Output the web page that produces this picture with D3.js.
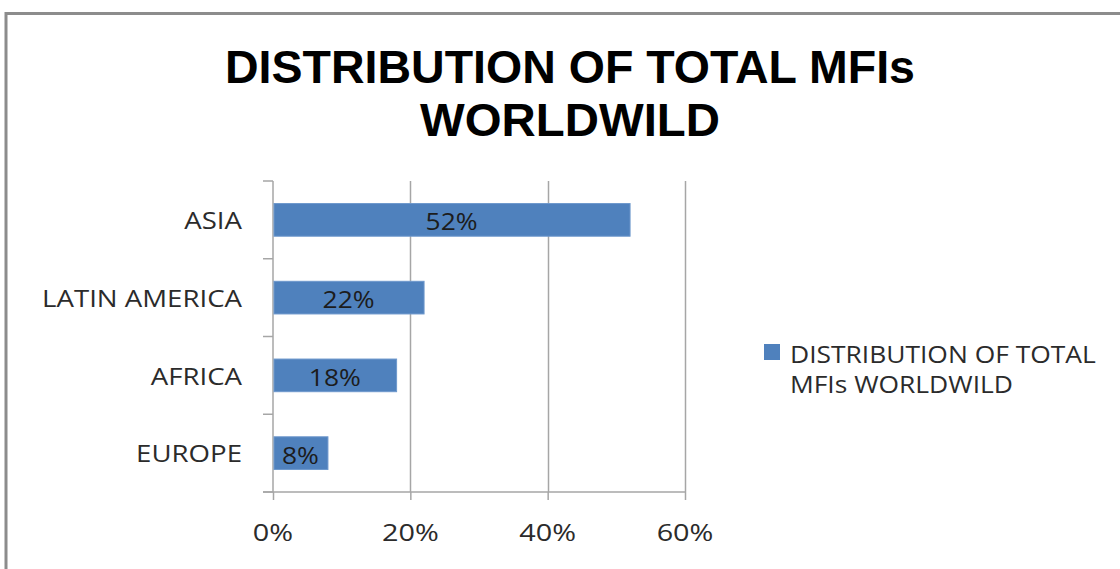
<!DOCTYPE html>
<html>
<head>
<meta charset="utf-8">
<script src="https://cdn.jsdelivr.net/npm/d3@7"></script>
<style>
  html, body { margin: 0; padding: 0; background: #fff; }
  svg { display: block; }
</style>
</head>
<body>
<svg id="chart" width="1120" height="569"></svg>
<script>
// Share of total microfinance institutions by region
const categories = ["ASIA", "LATIN AMERICA", "AFRICA", "EUROPE"];
const shares = [0.52, 0.22, 0.18, 0.08];
const tickValues = [0, 0.2, 0.4, 0.6];
const tickLabels = ["0%", "20%", "40%", "60%"];
const titleLines = ["DISTRIBUTION OF TOTAL MFIs", "WORLDWILD"];
const legendLines = ["DISTRIBUTION OF TOTAL", "MFIs WORLDWILD"];

const W = 1120, H = 569;
const barColor = "#4f81bd";
const gridColor = "#a6a6a6";
const textColor = "#2b2b2b";
const FONT = "'Open Sans', 'DejaVu Sans', sans-serif";
const TITLE_FONT = "'Liberation Sans', Arial, sans-serif";
const STRETCH = 1.15; // horizontal widening of the regular labels
const LABEL_SIZE = 24;

const svg = d3.select("#chart");

// Outer chart frame (only its left and top edges sit inside the view)
svg.append("rect")
  .attr("x", 6).attr("y", 13.5)
  .attr("width", W + 20).attr("height", H + 20)
  .attr("fill", "#fff")
  .attr("stroke", "#8c8c8c").attr("stroke-width", 3);

// Plot area
const plot = { left: 273, right: 685, top: 181, bottom: 492 };

const x = d3.scaleLinear().domain([0, 0.6]).range([plot.left, plot.right]);
const y = d3.scaleBand().domain(categories).range([plot.top, plot.bottom])
  .paddingInner(0.58).paddingOuter(0.29);
const yBand = d3.scaleBand().domain(categories).range([plot.top, plot.bottom]);

// helper: text drawn with a horizontal stretch around its anchor point
function stretched(g, px, py, txt, opts) {
  return g.append("text")
    .attr("transform", `translate(${px},${py}) scale(${opts.sx || STRETCH},1)`)
    .attr("font-family", FONT)
    .attr("font-size", opts.size || LABEL_SIZE)
    .attr("font-weight", opts.weight || 400)
    .attr("fill", opts.fill || textColor)
    .attr("text-anchor", opts.anchor || "start")
    .attr("dominant-baseline", "central")
    .text(txt);
}

// Title: two centred, condensed bold lines
const title = svg.append("g");
titleLines.forEach((line, i) => {
  title.append("text")
    .attr("x", 570).attr("y", 83 + i * 53)
    .attr("text-anchor", "middle")
    .attr("font-family", TITLE_FONT)
    .attr("font-weight", 700)
    .attr("font-size", 47)
    .attr("fill", "#000")
    .attr("textLength", i === 0 ? 690 : 300)
    .attr("lengthAdjust", "spacingAndGlyphs")
    .text(line);
});

// Vertical gridlines
svg.append("g")
  .selectAll("line")
  .data(tickValues.slice(1))
  .join("line")
  .attr("x1", d => Math.round(x(d)) + 0.5).attr("x2", d => Math.round(x(d)) + 0.5)
  .attr("y1", plot.top).attr("y2", plot.bottom)
  .attr("stroke", gridColor).attr("stroke-width", 1.5);

// Bottom axis
const xAxis = d3.axisBottom(x).tickValues(tickValues).tickSize(8).tickFormat("");
const xAxisG = svg.append("g")
  .attr("transform", `translate(0,${plot.bottom})`)
  .call(xAxis);
xAxisG.select(".domain").remove();
xAxisG.selectAll(".tick line").attr("stroke", gridColor).attr("stroke-width", 1.5);
xAxisG.append("line")
  .attr("x1", plot.left - 10).attr("x2", plot.right)
  .attr("y1", 0).attr("y2", 0)
  .attr("stroke", gridColor).attr("stroke-width", 1.5);
tickValues.forEach((v, i) => {
  stretched(xAxisG, x(v), 40, tickLabels[i], { anchor: "middle", sx: 1.2 });
});

// Left axis: tick marks at the band boundaries
const boundaries = categories.map(c => yBand(c)).concat([plot.bottom]);
const yAxisG = svg.append("g");
yAxisG.append("line")
  .attr("x1", plot.left).attr("x2", plot.left)
  .attr("y1", plot.top).attr("y2", plot.bottom)
  .attr("stroke", gridColor).attr("stroke-width", 1.5);
yAxisG.selectAll("line.tk")
  .data(boundaries)
  .join("line").attr("class", "tk")
  .attr("x1", plot.left - 10).attr("x2", plot.left)
  .attr("y1", d => d).attr("y2", d => d)
  .attr("stroke", gridColor).attr("stroke-width", 1.5);
categories.forEach(c => {
  stretched(yAxisG, plot.left - 31, yBand(c) + yBand.bandwidth() / 2, c, { anchor: "end" });
});

// Bars
const bars = svg.append("g");
bars.selectAll("rect")
  .data(categories.map((c, i) => ({ c, v: shares[i] })))
  .join("rect")
  .attr("x", x(0) + 1)
  .attr("y", d => y(d.c))
  .attr("width", d => x(d.v) - x(0) - 1)
  .attr("height", y.bandwidth())
  .attr("fill", barColor)
  .attr("stroke", "#6d98cc").attr("stroke-width", 1);

// Value labels centred on each bar
categories.forEach((c, i) => {
  stretched(bars, (x(0) + x(shares[i])) / 2, y(c) + y.bandwidth() / 2 + 1,
    d3.format(".0%")(shares[i]), { anchor: "middle", fill: "#1c1c1c", sx: 1.1 });
});

// Legend
const legend = svg.append("g");
legend.append("rect")
  .attr("x", 764).attr("y", 344).attr("width", 16).attr("height", 16)
  .attr("fill", barColor);
legendLines.forEach((line, i) => {
  stretched(legend, 790, 353 + i * 30, line, { anchor: "start", sx: 1.1 });
});
</script>
</body>
</html>
